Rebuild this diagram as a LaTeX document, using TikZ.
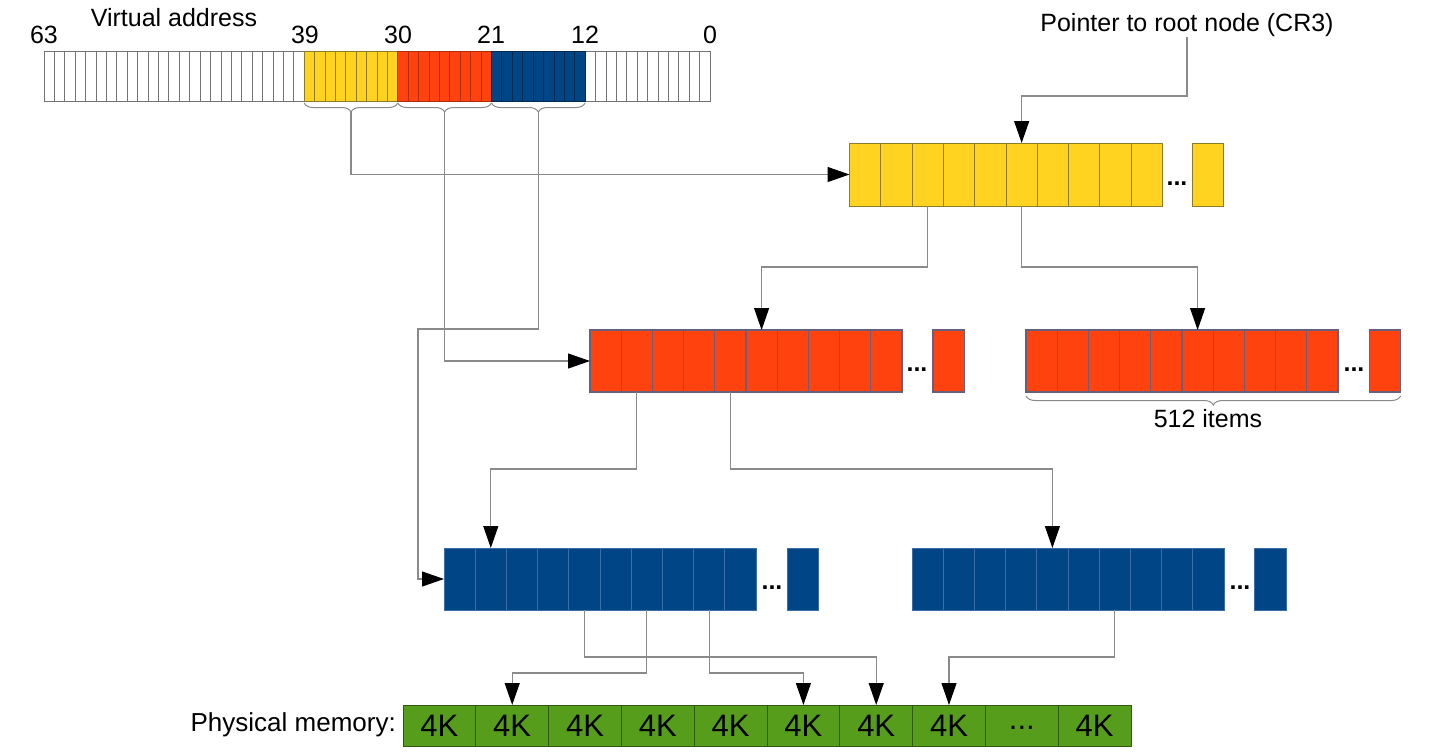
\documentclass[tikz,border=0pt]{standalone}
\usepackage{fontspec}
\setmainfont{Liberation Sans}
\usetikzlibrary{arrows.meta,decorations.pathreplacing,calc}
\definecolor{lyellow}{HTML}{FFD320}
\definecolor{lred}{HTML}{FF420E}
\definecolor{lblue}{HTML}{004586}
\definecolor{lgreen}{HTML}{579D1C}
\definecolor{ybord}{HTML}{8C7B2A}
\definecolor{rbord}{HTML}{66607E}
\definecolor{bbord}{HTML}{3B6DA8}
\definecolor{gbord}{HTML}{2F5A10}
\definecolor{conn}{HTML}{8A8A8A}
\begin{document}
\begin{tikzpicture}[x=1pt,y=-1pt,
 cell/.style={rectangle,inner sep=0pt,outer sep=0pt,line width=1pt},
 ycell/.style={cell,fill=lyellow,minimum width=31.3pt,minimum height=63pt},
 rcell/.style={cell,fill=lred,minimum width=31.2pt,minimum height=62pt},
 bcell/.style={cell,fill=lblue,minimum width=31.2pt,minimum height=62pt},
 mcell/.style={cell,fill=lgreen,minimum width=72.8pt,minimum height=41pt,font=\fontsize{31}{35}\selectfont},
 vcell/.style={cell,minimum width=10.406pt,minimum height=50pt},
 outline/.style={line width=1pt},
 lbl/.style={inner sep=0pt,font=\fontsize{25}{30}\selectfont},
 dotlbl/.style={inner sep=0pt,font=\fontsize{25}{30}\selectfont\bfseries},
 link/.style={draw=conn,line width=1.1pt,-{Triangle[length=22pt,width=15pt,color=black,fill=black]}},
 brc/.style={draw=conn,line width=1pt,decorate,decoration={brace,mirror,amplitude=9pt}}
]
\useasboundingbox (0,0) rectangle (1437,753);

% ---- virtual address bar
\foreach \b in {39,...,63} \node[vcell,fill=white] (V-\b) at ({44+(63-\b+0.5)*10.406},76) {};
\foreach \b in {30,...,38} \node[vcell,fill=lyellow] (V-\b) at ({44+(63-\b+0.5)*10.406},76) {};
\foreach \b in {21,...,29} \node[vcell,fill=lred] (V-\b) at ({44+(63-\b+0.5)*10.406},76) {};
\foreach \b in {12,...,20} \node[vcell,fill=lblue] (V-\b) at ({44+(63-\b+0.5)*10.406},76) {};
\foreach \b in {0,...,11} \node[vcell,fill=white] (V-\b) at ({44+(63-\b+0.5)*10.406},76) {};
\foreach \b in {39,...,63,0,1,...,11} \draw[outline,line width=0.8pt,gray!90!black] (V-\b.north west) rectangle (V-\b.south east);
\foreach \b in {30,...,38} \draw[outline,line width=0.8pt,ybord] (V-\b.north west) rectangle (V-\b.south east);
\foreach \b in {21,...,29} \draw[outline,line width=0.8pt,lred!70!black] (V-\b.north west) rectangle (V-\b.south east);
\foreach \b in {12,...,20} \draw[outline,line width=0.8pt,lblue!60!black] (V-\b.north west) rectangle (V-\b.south east);

\node[lbl] (va) at (174,18) {Virtual address};
\node[lbl] (l63) at (44,35) {63};
\node[lbl] (l39) at (305,35) {39};
\node[lbl] (l30) at (398,35) {30};
\node[lbl] (l21) at (491,35) {21};
\node[lbl] (l12) at (585,35) {12};
\node[lbl] (l0) at (710,35) {0};

\draw[brc] ($(V-38.south west)+(0,2)$) -- ($(V-30.south east)+(0,2)$);
\draw[brc] ($(V-29.south west)+(0,2)$) -- ($(V-21.south east)+(0,2)$);
\draw[brc] ($(V-20.south west)+(0,2)$) -- ($(V-12.south east)+(0,2)$);
\coordinate (ytip) at ($(V-38.south west)!0.5!(V-30.south east)+(0,11)$);
\coordinate (rtip) at ($(V-29.south west)!0.5!(V-21.south east)+(0,11)$);
\coordinate (btip) at ($(V-20.south west)!0.5!(V-12.south east)+(0,11)$);

% ---- yellow table
\foreach \i in {1,...,10} \node[ycell] (Y-\i) at ({849.5+(\i-0.5)*31.3},174.5) {};
\node[ycell] (Y-end) at (1208.3,174.5) {};
\foreach \i in {1,...,10,end} \draw[outline,ybord] (Y-\i.north west) rectangle (Y-\i.south east);
\node[dotlbl] (Y-dots) at (1177,184) {...};

% ---- red tables
\foreach \i in {1,...,10} \node[rcell] (R-\i) at ({590+(\i-0.5)*31.2},361) {};
\node[rcell] (R-end) at (948.5,361) {};
\foreach \i in {1,...,10,end} \draw[outline,line width=1.2pt,rbord] (R-\i.north west) rectangle (R-\i.south east);
\node[dotlbl] (R-dots) at (917,370) {...};
\foreach \i in {1,...,10} \node[rcell] (S-\i) at ({1026+(\i-0.5)*31.2},361) {};
\node[rcell] (S-end) at (1385,361) {};
\foreach \i in {1,...,10,end} \draw[outline,line width=1.2pt,rbord] (S-\i.north west) rectangle (S-\i.south east);
\node[dotlbl] (S-dots) at (1354,370) {...};
\draw[brc] ($(S-1.south west)+(0,4)$) -- ($(S-end.south east)+(0,4)$);
\node[lbl] (items) at (1208,419) {512 items};

% ---- blue tables
\foreach \i in {1,...,10} \node[bcell] (B-\i) at ({444+(\i-0.5)*31.2},579) {};
\node[bcell] (B-end) at (803,579) {};
\foreach \i in {1,...,10,end} \draw[outline,bbord] (B-\i.north west) rectangle (B-\i.south east);
\node[dotlbl] (B-dots) at (772,588) {...};
\foreach \i in {1,...,10} \node[bcell] (C-\i) at ({912+(\i-0.5)*31.2},579) {};
\node[bcell] (C-end) at (1270.5,579) {};
\foreach \i in {1,...,10,end} \draw[outline,bbord] (C-\i.north west) rectangle (C-\i.south east);
\node[dotlbl] (C-dots) at (1240,588) {...};

% ---- physical memory
\node[lbl,anchor=east,font=\fontsize{26}{30}\selectfont] (pm) at (396,725) {Physical memory:};
\foreach \i in {1,2,3,4,5,6,7,8,10} \node[mcell] (M-\i) at ({403+(\i-0.5)*72.8},725.5) {4K};
\node[mcell] (M-9) at ({403+8.5*72.8},725.5) {\raisebox{-8pt}{...}};
\foreach \i in {1,...,10} \draw[outline,gbord] (M-\i.north west) rectangle (M-\i.south east);

% ---- connectors
\node[lbl] (cr3) at (1187,25) {Pointer to root node (CR3)};
\draw[link] (cr3.south) |- (Y-6.north |- 0,96) -- (Y-6.north);
\draw[link] (ytip) |- (Y-1.west);
\draw[link] (rtip) |- (R-1.west);
\draw[link] (btip) |- (418,329) |- (B-1.west);
\draw[link] (Y-3.south) |- (R-6.north |- 0,267) -- (R-6.north);
\draw[link] (Y-6.south) |- (S-6.north |- 0,267) -- (S-6.north);
\draw[link] (R-2.south) |- (B-2.north |- 0,469) -- (B-2.north);
\draw[link] (R-5.south) |- (C-5.north |- 0,469) -- (C-5.north);
\draw[link] (B-5.south) |- (M-7.north |- 0,657) -- (M-7.north);
\draw[link] (B-7.south) |- (M-2.north |- 0,673) -- (M-2.north);
\draw[link] (B-9.south) |- (M-6.north |- 0,673) -- (M-6.north);
\draw[link] (C-7.south) |- (M-8.north |- 0,657) -- (M-8.north);
\end{tikzpicture}
\end{document}
